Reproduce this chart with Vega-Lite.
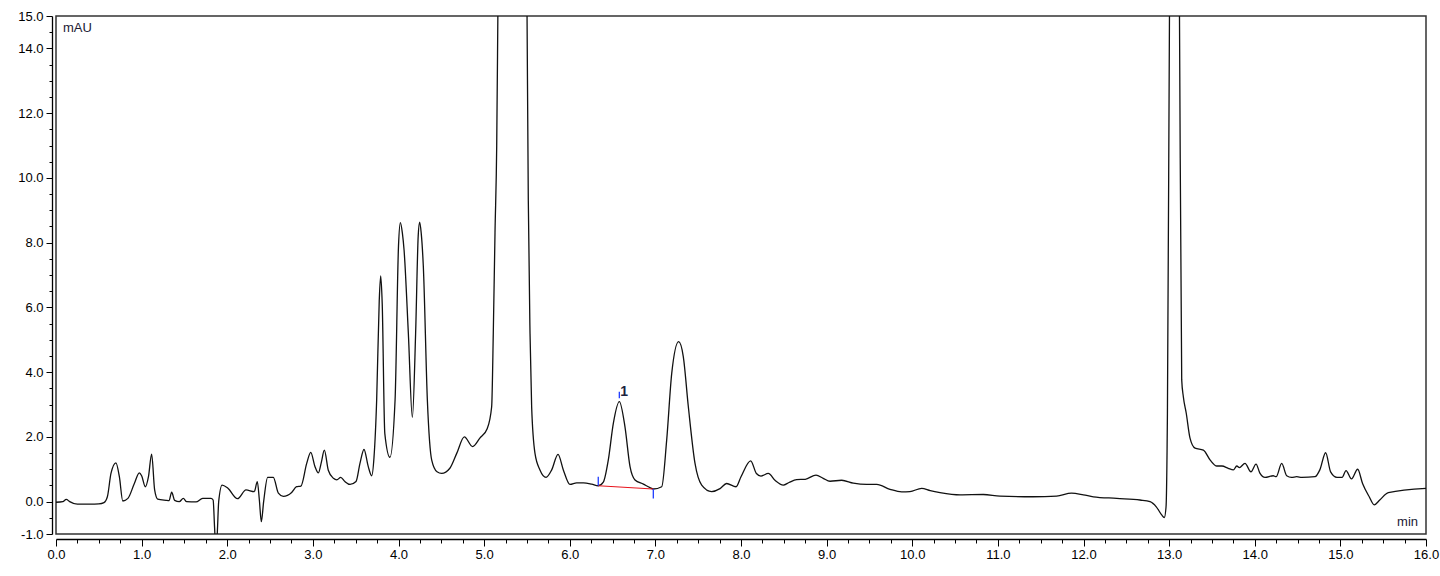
{
  "$schema": "https://vega.github.io/schema/vega-lite/v6.json",
  "width": 1370,
  "height": 518,
  "autosize": {"type": "none"},
  "padding": {"left": 56, "top": 16, "right": 14, "bottom": 42},
  "background": "white",
  "config": {
    "view": {"stroke": "#333333", "strokeWidth": 1.5},
    "axis": {
      "grid": false,
      "domainColor": "#000000",
      "domainWidth": 1.3,
      "tickColor": "#000000",
      "tickWidth": 1,
      "labelFont": "Liberation Sans",
      "labelFontSize": 13,
      "labelColor": "#000000",
      "labelOverlap": false,
      "labelFlush": false
    }
  },
  "datasets": {
    "trace": [
      {"t": 0.0, "v": -0.02}, {"t": 0.08, "v": 0.0}, {"t": 0.12, "v": 0.07}, {"t": 0.16, "v": 0.0},
      {"t": 0.25, "v": -0.08}, {"t": 0.4, "v": -0.08}, {"t": 0.5, "v": -0.07}, {"t": 0.56, "v": -0.03},
      {"t": 0.6, "v": 0.15}, {"t": 0.642, "v": 0.87}, {"t": 0.7, "v": 1.2}, {"t": 0.74, "v": 0.77},
      {"t": 0.78, "v": 0.02}, {"t": 0.84, "v": 0.1}, {"t": 0.915, "v": 0.56}, {"t": 0.973, "v": 0.89},
      {"t": 1.0, "v": 0.8}, {"t": 1.043, "v": 0.46}, {"t": 1.08, "v": 0.77}, {"t": 1.117, "v": 1.47},
      {"t": 1.152, "v": 0.36}, {"t": 1.187, "v": 0.08}, {"t": 1.285, "v": 0.04}, {"t": 1.32, "v": 0.03},
      {"t": 1.351, "v": 0.29}, {"t": 1.386, "v": 0.04}, {"t": 1.44, "v": 0.0}, {"t": 1.487, "v": 0.1},
      {"t": 1.526, "v": 0.0}, {"t": 1.635, "v": -0.01}, {"t": 1.713, "v": 0.1}, {"t": 1.81, "v": 0.1},
      {"t": 1.835, "v": 0.05}, {"t": 1.852, "v": -0.8}, {"t": 1.868, "v": -1.6}, {"t": 1.885, "v": -0.9},
      {"t": 1.9, "v": 0.0}, {"t": 1.94, "v": 0.51}, {"t": 2.005, "v": 0.42}, {"t": 2.12, "v": 0.09},
      {"t": 2.219, "v": 0.36}, {"t": 2.316, "v": 0.31}, {"t": 2.351, "v": 0.62}, {"t": 2.375, "v": 0.05},
      {"t": 2.398, "v": -0.62}, {"t": 2.425, "v": 0.0}, {"t": 2.472, "v": 0.75}, {"t": 2.538, "v": 0.75},
      {"t": 2.597, "v": 0.26}, {"t": 2.655, "v": 0.16}, {"t": 2.752, "v": 0.28}, {"t": 2.81, "v": 0.46},
      {"t": 2.86, "v": 0.48}, {"t": 2.928, "v": 1.18}, {"t": 2.975, "v": 1.52}, {"t": 3.025, "v": 1.08},
      {"t": 3.064, "v": 0.89}, {"t": 3.1, "v": 1.23}, {"t": 3.134, "v": 1.59}, {"t": 3.18, "v": 0.97},
      {"t": 3.24, "v": 0.72}, {"t": 3.28, "v": 0.67}, {"t": 3.325, "v": 0.75}, {"t": 3.374, "v": 0.62},
      {"t": 3.434, "v": 0.53}, {"t": 3.504, "v": 0.62}, {"t": 3.55, "v": 1.18}, {"t": 3.597, "v": 1.61},
      {"t": 3.647, "v": 1.08}, {"t": 3.687, "v": 0.8}, {"t": 3.714, "v": 1.37}, {"t": 3.745, "v": 3.14},
      {"t": 3.775, "v": 6.2}, {"t": 3.792, "v": 6.97}, {"t": 3.81, "v": 6.1}, {"t": 3.84, "v": 2.11}, {"t": 3.9, "v": 1.37}, {"t": 3.96, "v": 3.14},
      {"t": 4.0, "v": 7.9}, {"t": 4.022, "v": 8.62}, {"t": 4.045, "v": 8.3}, {"t": 4.065, "v": 7.77}, {"t": 4.115, "v": 5.2}, {"t": 4.162, "v": 2.6},
      {"t": 4.2, "v": 5.2}, {"t": 4.23, "v": 8.2}, {"t": 4.247, "v": 8.63}, {"t": 4.265, "v": 8.3}, {"t": 4.29, "v": 7.26}, {"t": 4.337, "v": 3.14},
      {"t": 4.388, "v": 1.28}, {"t": 4.45, "v": 0.92}, {"t": 4.504, "v": 0.87}, {"t": 4.6, "v": 1.03},
      {"t": 4.68, "v": 1.49}, {"t": 4.769, "v": 2.0}, {"t": 4.866, "v": 1.7}, {"t": 4.95, "v": 1.96},
      {"t": 5.037, "v": 2.26}, {"t": 5.088, "v": 2.93}, {"t": 5.107, "v": 5.2}, {"t": 5.127, "v": 8.3},
      {"t": 5.147, "v": 11.0}, {"t": 5.162, "v": 15.5}, {"t": 5.33, "v": 50.0}, {"t": 5.5, "v": 15.5},
      {"t": 5.516, "v": 9.3}, {"t": 5.536, "v": 5.2}, {"t": 5.555, "v": 2.93}, {"t": 5.594, "v": 1.49},
      {"t": 5.652, "v": 0.98}, {"t": 5.723, "v": 0.75}, {"t": 5.789, "v": 0.98}, {"t": 5.863, "v": 1.46},
      {"t": 5.925, "v": 0.98}, {"t": 6.003, "v": 0.53}, {"t": 6.081, "v": 0.58}, {"t": 6.16, "v": 0.58},
      {"t": 6.256, "v": 0.54}, {"t": 6.333, "v": 0.49}, {"t": 6.392, "v": 0.6}, {"t": 6.45, "v": 1.28},
      {"t": 6.509, "v": 2.42}, {"t": 6.579, "v": 3.09}, {"t": 6.645, "v": 2.31}, {"t": 6.704, "v": 1.08},
      {"t": 6.762, "v": 0.67}, {"t": 6.86, "v": 0.54}, {"t": 6.937, "v": 0.43}, {"t": 6.976, "v": 0.39},
      {"t": 7.074, "v": 0.46}, {"t": 7.132, "v": 1.9}, {"t": 7.191, "v": 3.96}, {"t": 7.272, "v": 4.94},
      {"t": 7.326, "v": 4.48}, {"t": 7.385, "v": 2.93}, {"t": 7.463, "v": 1.18}, {"t": 7.541, "v": 0.51},
      {"t": 7.657, "v": 0.31}, {"t": 7.755, "v": 0.4}, {"t": 7.832, "v": 0.56}, {"t": 7.942, "v": 0.46},
      {"t": 8.0, "v": 0.77}, {"t": 8.113, "v": 1.26}, {"t": 8.18, "v": 0.87}, {"t": 8.233, "v": 0.79},
      {"t": 8.319, "v": 0.87}, {"t": 8.4, "v": 0.65}, {"t": 8.494, "v": 0.51}, {"t": 8.56, "v": 0.59},
      {"t": 8.65, "v": 0.68}, {"t": 8.75, "v": 0.69}, {"t": 8.876, "v": 0.82}, {"t": 8.96, "v": 0.72},
      {"t": 9.04, "v": 0.63}, {"t": 9.176, "v": 0.66}, {"t": 9.312, "v": 0.57}, {"t": 9.467, "v": 0.53},
      {"t": 9.585, "v": 0.53}, {"t": 9.74, "v": 0.38}, {"t": 9.876, "v": 0.3}, {"t": 9.973, "v": 0.31},
      {"t": 10.11, "v": 0.41}, {"t": 10.21, "v": 0.34}, {"t": 10.324, "v": 0.28}, {"t": 10.56, "v": 0.21},
      {"t": 10.83, "v": 0.22}, {"t": 11.025, "v": 0.17}, {"t": 11.41, "v": 0.15}, {"t": 11.686, "v": 0.17},
      {"t": 11.86, "v": 0.26}, {"t": 11.998, "v": 0.21}, {"t": 12.115, "v": 0.15}, {"t": 12.388, "v": 0.1},
      {"t": 12.66, "v": 0.05}, {"t": 12.777, "v": 0.0}, {"t": 12.85, "v": -0.16}, {"t": 12.913, "v": -0.41},
      {"t": 12.944, "v": -0.49}, {"t": 12.964, "v": -0.16}, {"t": 12.98, "v": 2.7}, {"t": 13.005, "v": 15.5},
      {"t": 13.065, "v": 35.0}, {"t": 13.12, "v": 15.5}, {"t": 13.147, "v": 3.76}, {"t": 13.166, "v": 3.24},
      {"t": 13.2, "v": 2.73}, {"t": 13.244, "v": 1.96}, {"t": 13.303, "v": 1.65}, {"t": 13.4, "v": 1.59},
      {"t": 13.48, "v": 1.28}, {"t": 13.557, "v": 1.1}, {"t": 13.617, "v": 1.1}, {"t": 13.69, "v": 1.03},
      {"t": 13.75, "v": 0.98}, {"t": 13.79, "v": 1.1}, {"t": 13.82, "v": 1.05}, {"t": 13.886, "v": 1.18},
      {"t": 13.956, "v": 0.92}, {"t": 14.015, "v": 1.16}, {"t": 14.06, "v": 0.88}, {"t": 14.12, "v": 0.75},
      {"t": 14.215, "v": 0.8}, {"t": 14.25, "v": 0.77}, {"t": 14.315, "v": 1.18}, {"t": 14.373, "v": 0.8},
      {"t": 14.43, "v": 0.75}, {"t": 14.49, "v": 0.77}, {"t": 14.55, "v": 0.75}, {"t": 14.704, "v": 0.77},
      {"t": 14.76, "v": 0.98}, {"t": 14.828, "v": 1.51}, {"t": 14.886, "v": 0.92}, {"t": 14.96, "v": 0.75},
      {"t": 15.02, "v": 0.75}, {"t": 15.066, "v": 0.96}, {"t": 15.13, "v": 0.7}, {"t": 15.202, "v": 1.0},
      {"t": 15.259, "v": 0.56}, {"t": 15.337, "v": 0.15}, {"t": 15.395, "v": -0.1}, {"t": 15.46, "v": 0.05},
      {"t": 15.56, "v": 0.28}, {"t": 16.0, "v": 0.41}
    ],
    "baseline": [
      {"t": 6.333, "v": 0.49, "t2": 6.976, "v2": 0.39}
    ],
    "ticks": [
      {"t": 6.333, "v": 0.77, "t2": 6.333, "v2": 0.49},
      {"t": 6.976, "v": 0.39, "t2": 6.976, "v2": 0.1},
      {"t": 6.579, "v": 3.39, "t2": 6.579, "v2": 3.19}
    ],
    "peaklabels": [
      {"t": 6.634, "v": 3.39, "text": "1"}
    ],
    "units": [
      {"t": 0.082, "v": 14.63, "text": "mAU", "side": "left"},
      {"t": 15.907, "v": -0.63, "text": "min", "side": "right"}
    ]
  },
  "encoding": {
    "x": {
      "field": "t", "type": "quantitative",
      "scale": {"domain": [0, 16], "nice": false, "zero": false},
      "axis": {
        "title": null,
        "offset": 5,
        "values": [0,0.25,0.5,0.75,1,1.25,1.5,1.75,2,2.25,2.5,2.75,3,3.25,3.5,3.75,4,4.25,4.5,4.75,5,5.25,5.5,5.75,6,6.25,6.5,6.75,7,7.25,7.5,7.75,8,8.25,8.5,8.75,9,9.25,9.5,9.75,10,10.25,10.5,10.75,11,11.25,11.5,11.75,12,12.25,12.5,12.75,13,13.25,13.5,13.75,14,14.25,14.5,14.75,15,15.25,15.5,15.75,16],
        "labelExpr": "datum.value % 1 === 0 ? format(datum.value, '.1f') : ''",
        "tickSize": {"condition": {"test": "datum.value % 1 === 0", "value": 7}, "value": 4},
        "labelPadding": 2
      }
    },
    "y": {
      "field": "v", "type": "quantitative",
      "scale": {"domain": [-1, 15], "nice": false, "zero": false},
      "axis": {
        "title": null,
        "offset": 4,
        "values": [-1,-0.5,0,0.5,1,1.5,2,2.5,3,3.5,4,4.5,5,5.5,6,6.5,7,7.5,8,8.5,9,9.5,10,10.5,11,11.5,12,12.5,13,13.5,14,14.5,15],
        "labelExpr": "datum.value === -1 ? '-1.0' : ((datum.value === 15 || datum.value % 2 === 0) ? format(datum.value, '.1f') : '')",
        "tickSize": {"condition": {"test": "datum.value === -1 || datum.value === 15 || datum.value % 2 === 0", "value": 6}, "value": 3},
        "labelPadding": 3
      }
    }
  },
  "layer": [
    {
      "data": {"name": "trace"},
      "mark": {"type": "line", "clip": true, "color": "#111111", "strokeWidth": 1.3, "interpolate": "monotone"}
    },
    {
      "data": {"name": "baseline"},
      "mark": {"type": "rule", "color": "#e8141c", "strokeWidth": 1.1},
      "encoding": {
        "x2": {"field": "t2"},
        "y2": {"field": "v2"}
      }
    },
    {
      "data": {"name": "ticks"},
      "mark": {"type": "rule", "color": "#1f3cff", "strokeWidth": 1.3},
      "encoding": {
        "x2": {"field": "t2"},
        "y2": {"field": "v2"}
      }
    },
    {
      "data": {"name": "peaklabels"},
      "mark": {"type": "text", "font": "Liberation Sans", "fontSize": 14, "fontWeight": "bold", "color": "#1c2440", "align": "center", "baseline": "middle"},
      "encoding": {
        "text": {"field": "text"}
      }
    },
    {
      "data": {"name": "units"},
      "transform": [{"filter": "datum.side === 'left'"}],
      "mark": {"type": "text", "font": "Liberation Sans", "fontSize": 13, "color": "#1a1a33", "baseline": "middle", "align": "left"},
      "encoding": {
        "text": {"field": "text"}
      }
    },
    {
      "data": {"name": "units"},
      "transform": [{"filter": "datum.side === 'right'"}],
      "mark": {"type": "text", "font": "Liberation Sans", "fontSize": 13, "color": "#1a1a33", "baseline": "middle", "align": "right"},
      "encoding": {
        "text": {"field": "text"}
      }
    }
  ]
}
